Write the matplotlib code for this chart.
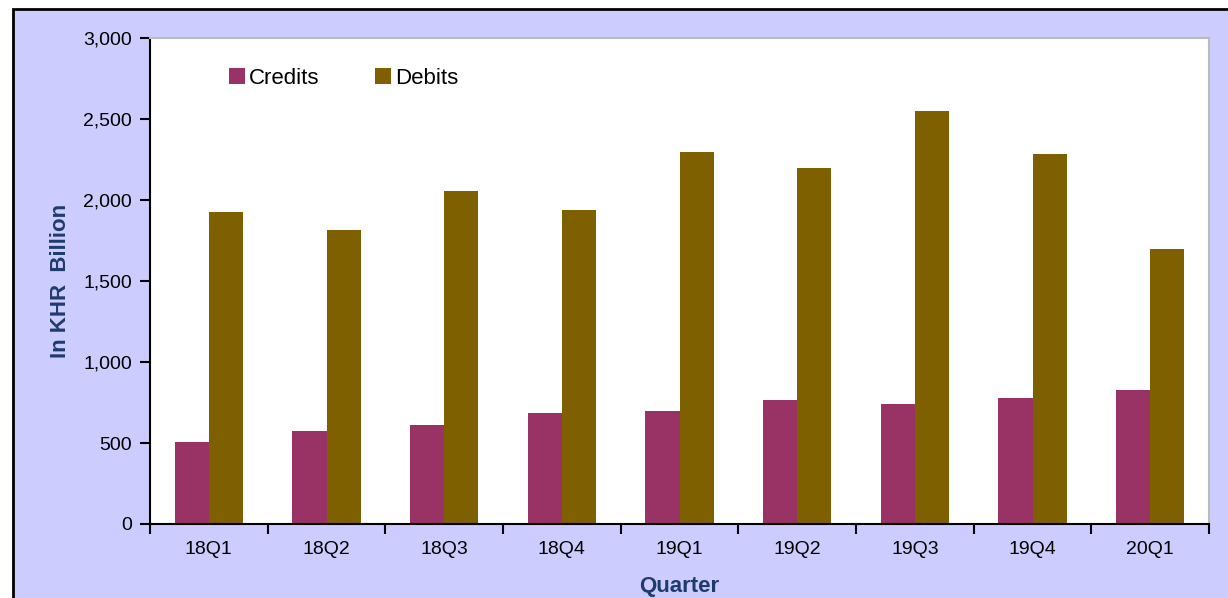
import numpy as np
import matplotlib.pyplot as plt
from matplotlib.patches import Rectangle
from matplotlib.ticker import FuncFormatter, FixedLocator

plt.rcParams['font.family'] = ['Liberation Sans', 'DejaVu Sans']

quarters = ["18Q1", "18Q2", "18Q3", "18Q4", "19Q1", "19Q2", "19Q3", "19Q4", "20Q1"]
credits = [505, 574, 611, 685, 698, 765, 741, 778, 827]
debits = [1926, 1815, 2056, 1938, 2296, 2198, 2549, 2284, 1698]

navy = "#1F3A6E"
lavender = "#CCCCFF"

fig = plt.figure(figsize=(12.28, 5.98), dpi=100, facecolor="white")

# lavender chart frame behind everything
fig.patches.append(Rectangle((13 / 1228, -0.05), 1.2, 1.05 - 9 / 598,
                             transform=fig.transFigure, facecolor=lavender,
                             edgecolor="black", linewidth=2, zorder=-5))

ax = fig.add_axes([150 / 1228, 1 - 524 / 598, 1059 / 1228, 486 / 598])
ax.set_zorder(1)
ax.set_facecolor("white")

x = np.arange(len(quarters)) + 0.5
w = 0.29
ax.bar(x - w / 2, credits, w, color="#993366", label="Credits", zorder=2)
ax.bar(x + w / 2, debits, w, color="#7F6000", label="Debits", zorder=2)

ax.set_xlim(0, len(quarters))
ax.set_ylim(0, 3000)
ax.set_yticks(np.arange(0, 3001, 500))
ax.yaxis.set_major_formatter(FuncFormatter(lambda v, p: f"{int(v):,}"))
ax.xaxis.set_major_locator(FixedLocator(np.arange(0, len(quarters) + 1)))
ax.xaxis.set_minor_locator(FixedLocator(x))
ax.set_xticklabels([])
ax.set_xticklabels(quarters, minor=True)
ax.tick_params(axis="x", which="major", direction="out", length=7, width=1.5)
ax.tick_params(axis="x", which="minor", length=0, pad=12, labelsize=14)
ax.tick_params(axis="y", direction="out", length=7, width=1.5, labelsize=14, pad=6)

for s in ["left", "bottom"]:
    ax.spines[s].set_linewidth(1.5)
    ax.spines[s].set_color("black")
for s in ["top", "right"]:
    ax.spines[s].set_color("#BBBBBB")
    ax.spines[s].set_linewidth(1.5)

ax.set_ylabel("In KHR  Billion", fontsize=16, fontweight="bold", color=navy, labelpad=9)
ax.set_xlabel("Quarter", fontsize=16, fontweight="bold", color=navy, labelpad=13)

ax.legend(loc="upper left", bbox_to_anchor=(0.056, 0.98), ncol=2, frameon=False,
          fontsize=16, handlelength=0.7, handleheight=0.7, handletextpad=0.2,
          columnspacing=2.5)

fig.savefig("out.png", dpi=100, facecolor="white")
